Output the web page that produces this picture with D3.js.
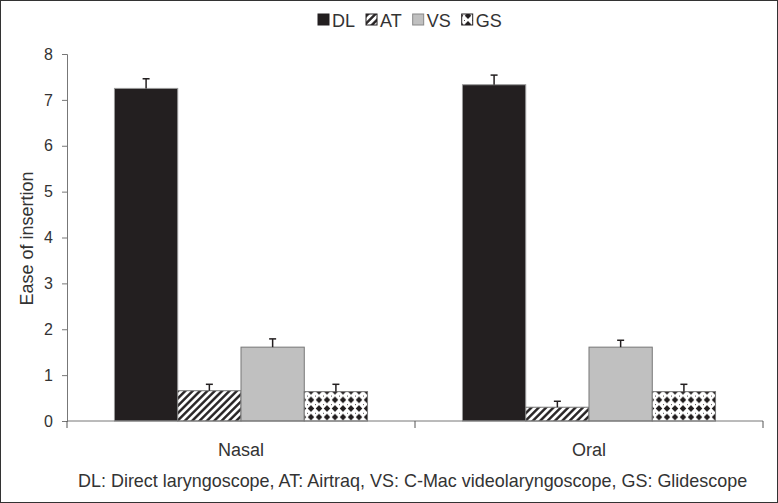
<!DOCTYPE html>
<html lang="en">
<head>
    <meta charset="UTF-8">
    <title>Ease of insertion</title>
    <script src="https://cdn.jsdelivr.net/npm/d3@7/dist/d3.min.js"></script>
    <style>
        body { margin: 0; background: #fff; }
        svg text { font-family: "Liberation Sans", Arial, sans-serif; fill: #333; }
    </style>
</head>
<body>
<script type="text/javascript">
    var width = 778;
    var height = 503;

    // data
    var categories = ["Nasal", "Oral"];
    var series = ["DL", "AT", "VS", "GS"];
    var meanDL = [7.25, 7.33];
    var meanAT = [0.66, 0.30];
    var meanVS = [1.61, 1.61];
    var meanGS = [0.64, 0.64];
    var errDL = [0.21, 0.21];
    var errAT = [0.14, 0.13];
    var errVS = [0.18, 0.15];
    var errGS = [0.16, 0.16];
    var yTicks = [0, 1, 2, 3, 4, 5, 6, 7, 8];
    var yTitle = "Ease of insertion";
    var footNote = "DL: Direct laryngoscope, AT: Airtraq, VS: C-Mac videolaryngoscope, GS: Glidescope";

    var means = {DL: meanDL, AT: meanAT, VS: meanVS, GS: meanGS};
    var errs = {DL: errDL, AT: errAT, VS: errVS, GS: errGS};
    var fills = {DL: "#231f20", AT: "url(#hatch)", VS: "#c0c0c0", GS: "url(#diamonds)"};

    var plot = {left: 67, right: 763, top: 54, bottom: 421};

    var svg = d3.select('body').append('svg')
            .attr('width', width)
            .attr('height', height);

    // patterns
    var defs = svg.append("defs");
    var hatch = defs.append("pattern")
            .attr("id", "hatch")
            .attr("patternUnits", "userSpaceOnUse")
            .attr("width", 5.2)
            .attr("height", 5.2)
            .attr("patternTransform", "rotate(45)");
    hatch.append("rect").attr("width", 5.2).attr("height", 5.2).attr("fill", "#fff");
    hatch.append("line")
            .attr("x1", 1.3).attr("y1", 0).attr("x2", 1.3).attr("y2", 5.2)
            .attr("stroke", "#231f20").attr("stroke-width", 2.4);

    var dia = defs.append("pattern")
            .attr("id", "diamonds")
            .attr("patternUnits", "userSpaceOnUse")
            .attr("width", 8)
            .attr("height", 8.6);
    dia.append("rect").attr("width", 8).attr("height", 8.6).attr("fill", "#fff");
    dia.append("path")
            .attr("d", "M4,0.9L7.3,4.3L4,7.7L0.7,4.3Z")
            .attr("fill", "#231f20");
    dia.append("rect").attr("x", 0).attr("y", 0).attr("width", 0.9).attr("height", 0.9).attr("fill", "#231f20");

    // outer frame
    svg.append("rect")
            .attr("x", 0.5).attr("y", 0.5)
            .attr("width", width - 1).attr("height", height - 1)
            .attr("fill", "none").attr("stroke", "#333").attr("stroke-width", 1);

    var x0 = d3.scaleBand()
            .domain(categories)
            .range([plot.left, plot.right])
            .padding(0);
    var x1 = d3.scaleBand()
            .domain(series)
            .range([0, x0.bandwidth()])
            .paddingInner(0)
            .paddingOuter(0.75);
    var y = d3.scaleLinear()
            .domain([0, 8])
            .range([plot.bottom, plot.top]);

    // bars
    var groups = svg.selectAll("g.cat")
            .data(categories)
            .enter().append("g")
            .attr("class", "cat")
            .attr("transform", function (d) { return "translate(" + x0(d) + ",0)"; });

    function rows(c, ci) {
        return series.map(function (s) { return {s: s, v: means[s][ci], e: errs[s][ci]}; });
    }

    groups.selectAll("rect")
            .data(rows)
            .enter().append("rect")
            .attr("x", function (d) { return x1(d.s); })
            .attr("y", function (d) { return y(d.v); })
            .attr("width", x1.bandwidth())
            .attr("height", function (d) { return y(0) - y(d.v); })
            .attr("fill", function (d) { return fills[d.s]; })
            .attr("stroke", function (d) { return d.s === "DL" ? "#999" : "#777"; })
            .attr("stroke-width", 1);

    // error bars
    var eb = groups.selectAll("g.err")
            .data(rows)
            .enter().append("g")
            .attr("class", "err");
    eb.append("line")
            .attr("x1", function (d) { return x1(d.s) + x1.bandwidth() / 2; })
            .attr("x2", function (d) { return x1(d.s) + x1.bandwidth() / 2; })
            .attr("y1", function (d) { return y(d.v); })
            .attr("y2", function (d) { return y(d.v + d.e); })
            .attr("stroke", "#231f20").attr("stroke-width", 1.5);
    eb.append("line")
            .attr("x1", function (d) { return x1(d.s) + x1.bandwidth() / 2 - 3.5; })
            .attr("x2", function (d) { return x1(d.s) + x1.bandwidth() / 2 + 3.5; })
            .attr("y1", function (d) { return y(d.v + d.e); })
            .attr("y2", function (d) { return y(d.v + d.e); })
            .attr("stroke", "#231f20").attr("stroke-width", 1.5);

    // y axis
    var yAxis = d3.axisLeft(y).tickValues(yTicks).tickSize(5).tickPadding(9);
    var gy = svg.append("g")
            .attr("transform", "translate(" + plot.left + ",0)")
            .call(yAxis);
    gy.select(".domain").attr("stroke", "#777");
    gy.selectAll(".tick line").attr("stroke", "#777");
    gy.selectAll("text").attr("font-size", "16px").attr("fill", "#333")
            .attr("font-family", "'Liberation Sans', Arial, sans-serif");

    // x axis
    var xAxis = d3.axisBottom(x0).tickSize(0).tickPadding(22);
    var gx = svg.append("g")
            .attr("transform", "translate(0," + plot.bottom + ")")
            .call(xAxis);
    gx.select(".domain").attr("d", "M" + plot.left + ",0H" + plot.right).attr("stroke", "#777");
    gx.selectAll("text").attr("font-size", "18px").attr("fill", "#333")
            .attr("font-family", "'Liberation Sans', Arial, sans-serif");
    // category boundary ticks
    gx.selectAll("line.bound")
            .data(x0.domain().map(function (d) { return x0(d); }).concat([plot.right]))
            .enter().append("line")
            .attr("class", "bound")
            .attr("x1", function (d) { return d; })
            .attr("x2", function (d) { return d; })
            .attr("y1", 0).attr("y2", 7)
            .attr("stroke", "#555");

    // y title
    svg.append("text")
            .attr("transform", "translate(33," + ((170 + 307) / 2) + ") rotate(-90)")
            .attr("text-anchor", "middle")
            .attr("font-size", "18px")
            .text(yTitle);

    // legend
    var legend = svg.append("g").attr("transform", "translate(0,20)");
    var lx = 318;
    series.forEach(function (s) {
        legend.append("rect")
                .attr("x", lx).attr("y", -6)
                .attr("width", 11).attr("height", 11)
                .attr("fill", fills[s])
                .attr("stroke", s === "VS" ? "#888" : "#231f20")
                .attr("stroke-width", 1);
        var t = legend.append("text")
                .attr("x", lx + 14).attr("y", 6.5)
                .attr("font-size", "18px")
                .text(s);
        lx += 14 + t.node().getComputedTextLength() + 11;
    });

    // foot note, fitted to the width seen in the picture
    var foot = svg.append("text")
            .attr("x", 78).attr("y", 487)
            .attr("font-size", "15px")
            .text(footNote);
    var fw = foot.node().getComputedTextLength();
    foot.attr("font-size", (15 * 670 / fw).toFixed(2) + "px");
</script>
</body>
</html>
